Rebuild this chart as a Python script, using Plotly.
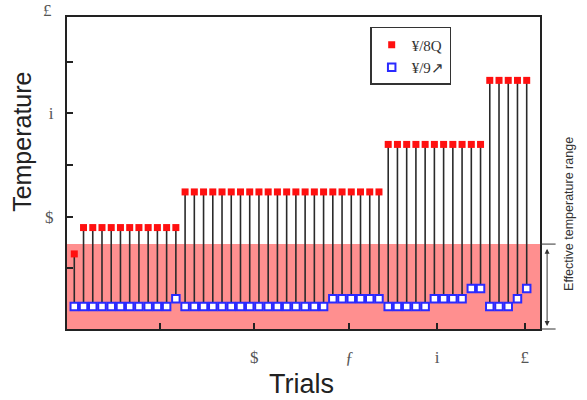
import plotly.graph_objects as go

# ---- data ----
trials = list(range(1, 51))
red_vals = [1.28] + [1.79] * 11 + [2.48] * 22 + [3.40] * 11 + [4.64] * 5
blue_vals = ([0.26] * 11 + [0.41] + [0.26] * 16 + [0.41] * 6 + [0.26] * 5 +
             [0.41] * 4 + [0.61] * 2 + [0.26] * 3 + [0.41] + [0.61])
effective_top = 1.47
legend_names = ["¥/8Q", "¥/9↗"]
x_tickvals = [10.3, 20.5, 30.8, 40.3, 49.8]
x_ticktext = ["", "$", "ƒ", "i", "£"]
y_tickvals = [1, 2, 3, 4, 5]
y_ticktext = ["", "$", "", "i", ""]
y_top_label = "£"

X_RANGE = [0.21, 51.44]
Y_RANGE = [-0.174, 5.867]

# stems
sx, sy = [], []
for t, b, r in zip(trials, blue_vals, red_vals):
    sx += [t, t, None]
    sy += [b, r, None]

fig = go.Figure()

# effective range band
fig.add_shape(type="rect", xref="paper", yref="y", x0=0, x1=1,
              y0=Y_RANGE[0], y1=effective_top, fillcolor="rgb(255,143,143)",
              line_width=0, layer="below")

fig.add_trace(go.Scatter(x=sx, y=sy, mode="lines", line=dict(color="#2a2a2a", width=1.6),
                         showlegend=False, hoverinfo="skip"))
fig.add_trace(go.Scatter(x=trials, y=red_vals, mode="markers", name=legend_names[0],
                         marker=dict(symbol="square", size=7, color="#ff1010",
                                     line=dict(width=0)), cliponaxis=False))
fig.add_trace(go.Scatter(x=trials, y=blue_vals, mode="markers", name=legend_names[1],
                         marker=dict(symbol="square", size=7.5, color="white",
                                     line=dict(width=2, color="#2a2aff")), cliponaxis=False))

def ypaper(v):
    return (v - Y_RANGE[0]) / (Y_RANGE[1] - Y_RANGE[0])

# bracket on the right
for yy in [effective_top, Y_RANGE[0]]:
    fig.add_shape(type="line", xref="paper", yref="paper", x0=1.0, x1=1.033,
                  y0=ypaper(yy), y1=ypaper(yy), line=dict(color="#333", width=1))

fig.add_annotation(xref="paper", yref="paper", x=1.015, y=ypaper(Y_RANGE[0]) + 0.01,
                   axref="pixel", ayref="pixel", ax=0,
                   ay=-(ypaper(effective_top) - ypaper(Y_RANGE[0]) - 0.02) * 312,
                   showarrow=True, arrowside="end+start", arrowhead=2, arrowsize=1,
                   arrowwidth=1, arrowcolor="#333", text="")

fig.add_annotation(xref="paper", yref="paper", x=1.06, y=0.37, text="Effective temperature range",
                   textangle=-90, showarrow=False, xanchor="center", yanchor="middle",
                   font=dict(family="Arial, Liberation Sans", size=12.5, color="#333"))

# axis titles
fig.add_annotation(xref="paper", yref="paper", x=-0.095, y=0.6, text="Temperature",
                   textangle=-90, showarrow=False, xanchor="center", yanchor="middle",
                   font=dict(family="Arial, Liberation Sans", size=25, color="#222"))
fig.add_annotation(xref="paper", yref="paper", x=0.495, y=-0.175, text="Trials",
                   showarrow=False, xanchor="center", yanchor="middle",
                   font=dict(family="Arial, Liberation Sans", size=27, color="#222"))
# top y tick label (above plot top)
fig.add_annotation(xref="paper", yref="paper", x=-0.028, y=ypaper(6.0), text=y_top_label,
                   showarrow=False, xanchor="right", yanchor="middle",
                   font=dict(family="Liberation Serif", size=17, color="#555"))

fig.update_xaxes(range=X_RANGE, tickvals=x_tickvals, ticktext=x_ticktext, ticks="inside",
                 ticklen=6, tickwidth=1.5, tickcolor="#222", showgrid=False, zeroline=False,
                 showline=True, linecolor="#222", linewidth=2, mirror=True,
                 ticklabelstandoff=12,
                 tickfont=dict(family="Liberation Serif", size=17, color="#555"))
fig.update_yaxes(range=Y_RANGE, tickvals=y_tickvals, ticktext=y_ticktext, ticks="inside",
                 ticklen=6, tickwidth=1.5, tickcolor="#222", showgrid=False, zeroline=False,
                 showline=True, linecolor="#222", linewidth=2, mirror=True,
                 ticklabelstandoff=8,
                 tickfont=dict(family="Liberation Serif", size=17, color="#555"))

fig.update_layout(
    width=587, height=400, margin=dict(l=67, r=47, t=17, b=71),
    plot_bgcolor="white", paper_bgcolor="white",
    legend=dict(x=0.641, y=0.968, xanchor="left", yanchor="top", bgcolor="white",
                bordercolor="#333", borderwidth=1.5,
                font=dict(family="Liberation Serif", size=15, color="#333"),
                itemwidth=30, tracegroupgap=0),
    showlegend=True,
)

fig.write_html("out.html")
